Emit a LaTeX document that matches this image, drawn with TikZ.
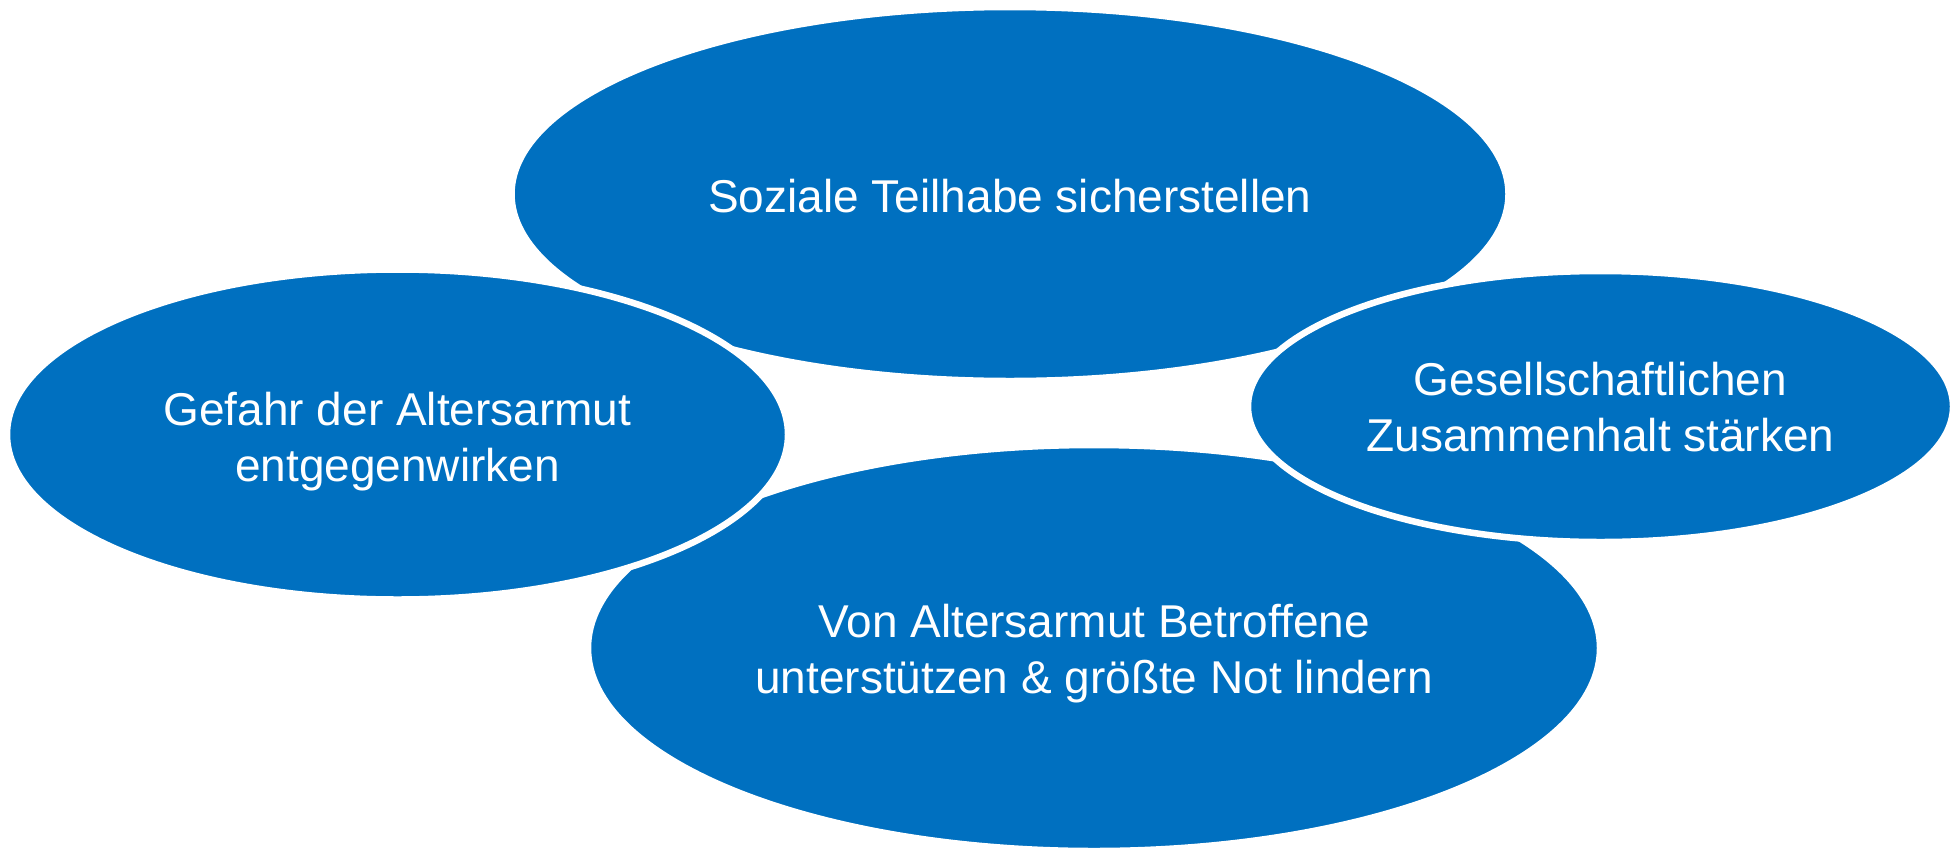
\documentclass[tikz,border=0pt]{standalone}
\usepackage{fontspec}
\setmainfont{Liberation Sans}
\usetikzlibrary{shapes.geometric}
\definecolor{ovalblue}{HTML}{0070C0}
\begin{document}
\begin{tikzpicture}[x=1pt,y=-1pt,
  oval/.style={ellipse, fill=ovalblue, draw=white, line width=6.5pt, inner sep=0pt},
  ovaltext/.style={text=white, align=center, inner sep=0pt, font=\fontsize{46pt}{56pt}\selectfont}]
\useasboundingbox (0,0) rectangle (1958,857);
\node[oval, minimum width=997pt, minimum height=374pt] (top) at (1010,194) {};
\node[ovaltext] (toptext) at ([yshift=-2.5pt]top.center) {Soziale Teilhabe sicherstellen};
\node[oval, minimum width=1012pt, minimum height=406pt] (bottom) at (1094,648) {};
\node[ovaltext] (bottomtext) at ([yshift=-6pt]bottom.center) {Von Altersarmut Betroffene\\unterstützen \& größte Not lindern};
\node[oval, minimum width=781pt, minimum height=330pt] (left) at (397.5,434.5) {};
\node[ovaltext] (lefttext) at ([yshift=-7.5pt]left.center) {Gefahr der Altersarmut\\entgegenwirken};
\node[oval, minimum width=705pt, minimum height=271pt] (right) at (1600.5,406.5) {};
\node[ovaltext] (righttext) at ([yshift=-1pt]right.center) {Gesellschaftlichen\\Zusammenhalt stärken};
\end{tikzpicture}
\end{document}
